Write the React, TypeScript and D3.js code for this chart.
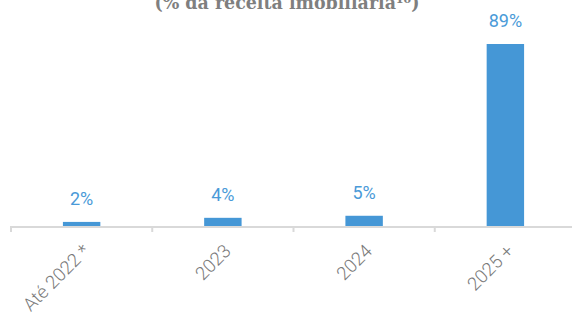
import React from 'react';
import * as d3 from 'd3';

const categories = ['Até 2022 *', '2023', '2024', '2025 +'];
const values = [2, 4, 5, 89];
const valueLabels = ['2%', '4%', '5%', '89%'];
const title = '(% da receita imobiliária¹⁰)';

const width = 572;
const height = 317;
const baseY = 226;

export default function App() {
  const x = d3.scaleBand<string>()
    .domain(categories)
    .range([11, 576])
    .paddingInner(0.735)
    .paddingOuter(0.3675);

  const y = d3.scaleLinear()
    .domain([0, 89])
    .range([baseY, 44]);

  const step = x.step();
  const tickXs = categories.map((c, i) => 11 + i * step);

  return (
    <svg width={width} height={height} style={{ position: 'absolute', left: 0, top: 0 }}>
      {/* title is cut by the top edge, as in the source */}
      <text
        x={287}
        y={9}
        textAnchor="middle"
        fontFamily="'DejaVu Serif', serif"
        fontWeight="bold"
        fontSize={19}
        fill="#7f7f7f"
        textLength={265}
        lengthAdjust="spacingAndGlyphs"
      >
        {title}
      </text>

      {categories.map((c, i) => (
        <rect
          key={c}
          x={x(c)}
          y={y(values[i])}
          width={x.bandwidth()}
          height={baseY - y(values[i])}
          fill="#4597d6"
        />
      ))}

      {categories.map((c, i) => (
        <text
          key={c}
          x={(x(c) ?? 0) + x.bandwidth() / 2}
          y={y(values[i]) - 17}
          textAnchor="middle"
          fontFamily="Roboto, sans-serif"
          fontSize={18}
          fill="#4a9ad8"
        >
          {valueLabels[i]}
        </text>
      ))}

      <line x1={11} x2={width} y1={baseY + 1} y2={baseY + 1} stroke="#d9d9d9" strokeWidth={2} />
      {tickXs.map((tx, i) => (
        <line key={i} x1={tx} x2={tx} y1={baseY} y2={baseY + 6} stroke="#d9d9d9" strokeWidth={2} />
      ))}

      {categories.map((c) => {
        const cx = (x(c) ?? 0) + x.bandwidth() / 2;
        return (
          <text
            key={c}
            transform={`translate(${cx},${baseY + 17}) rotate(-45)`}
            textAnchor="end"
            dy="0.7em"
            fontFamily="Roboto, sans-serif"
            fontWeight={300}
            fontSize={18.5}
            fill="#7a7a7a"
          >
            {c}
          </text>
        );
      })}
    </svg>
  );
}
